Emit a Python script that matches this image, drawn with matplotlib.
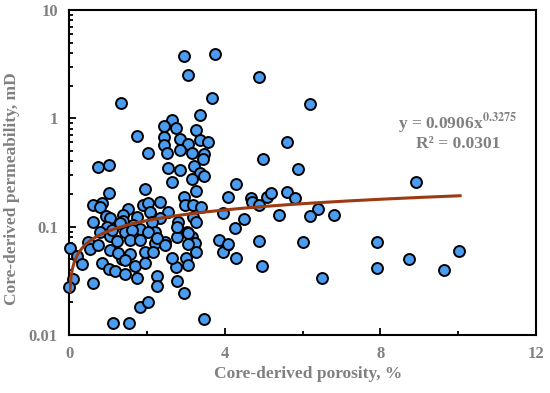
import matplotlib
matplotlib.use("Agg")
import matplotlib.pyplot as plt
import numpy as np
from matplotlib.ticker import LogLocator, NullFormatter, FixedLocator

# core porosity (%) and permeability (mD)
porosity = [
    2.96, 3.75, 3.06, 4.88, 3.68, 1.34, 6.20, 3.37, 2.65, 2.44, 2.75, 3.26, 1.75, 2.44,
    2.85, 3.37, 3.57, 5.60, 3.06, 2.44, 2.03, 2.52, 2.85, 3.16, 3.47, 3.44, 4.99, 0.75,
    1.03, 5.89, 8.92,
    2.54, 2.85, 3.21, 3.37, 3.47, 2.65, 3.16, 4.29, 1.03, 1.95, 2.96, 3.26, 4.09, 4.68,
    4.70, 4.88, 5.09, 5.19, 5.60, 5.81, 6.40, 6.20, 6.81, 5.40, 4.50, 3.96,
    0.62, 0.85, 0.80, 0.95, 0.62, 1.05, 1.52, 1.39, 1.39, 1.75, 1.90, 2.03, 2.08, 2.34,
    2.54, 2.98, 3.19, 3.39, 2.34, 2.13, 3.19, 3.26, 2.80, 4.27, 3.03, 3.16, 3.24, 2.78,
    2.47, 2.21, 4.06, 2.21,
    0.98, 0.80, 0.49, 1.05, 1.23, 1.44, 1.65, 1.83, 2.03, 1.95, 2.26, 2.47, 2.78, 3.06,
    3.06, 3.26, 3.86, 3.96, 4.09, 4.29, 4.88, 4.96, 6.02, 0.03, 0.21, 0.33, 0.10, 0.00,
    0.62, 0.54, 0.75, 0.85, 1.03, 1.18, 1.44, 1.75, 1.36, 1.57, 1.70, 1.95, 2.26, 2.26,
    2.78, 2.75, 2.65, 3.01, 3.06, 2.96, 1.83, 2.03, 1.13, 1.54, 3.47, 1.05, 1.26, 1.44,
    2.16, 1.11, 1.31, 1.62, 1.57, 1.83,
    7.92, 7.92, 8.74, 9.64, 10.03, 6.50,
]
permeability = [
    3.77, 3.93, 2.52, 2.41, 1.54, 1.39, 1.36, 1.07, 0.967, 0.851, 0.815, 0.78, 0.688, 0.673,
    0.645, 0.63, 0.605, 0.605, 0.58, 0.568, 0.479, 0.479, 0.51, 0.479, 0.469, 0.422, 0.422, 0.356,
    0.371, 0.341, 0.259,
    0.348, 0.334, 0.36, 0.313, 0.294, 0.259, 0.275, 0.247, 0.205, 0.223, 0.188, 0.214, 0.188, 0.184,
    0.169, 0.158, 0.188, 0.205, 0.209, 0.184, 0.146, 0.126, 0.128, 0.128, 0.118, 0.134,
    0.158, 0.166, 0.152, 0.126, 0.11, 0.12, 0.146, 0.128, 0.113, 0.123, 0.158, 0.166, 0.137, 0.169,
    0.137, 0.158, 0.158, 0.152, 0.12, 0.11, 0.123, 0.11, 0.11, 0.0973, 0.0893, 0.0803, 0.0707, 0.0803,
    0.0722, 0.0707, 0.0678, 0.0893,
    0.0993, 0.0893, 0.0722, 0.082, 0.0738, 0.0893, 0.104, 0.0953, 0.0893, 0.0584, 0.0787, 0.0678, 0.0993, 0.0875,
    0.0692, 0.0584, 0.0754, 0.0584, 0.0692, 0.0514, 0.0738, 0.0434, 0.0722, 0.0636, 0.0536, 0.0453, 0.0329, 0.0277,
    0.0302, 0.0622, 0.0678, 0.0462, 0.0407, 0.039, 0.0366, 0.0336, 0.0503, 0.056, 0.0434, 0.0462, 0.0351, 0.0283,
    0.0315, 0.0425, 0.0514, 0.0514, 0.0443, 0.0244, 0.0181, 0.0202, 0.0129, 0.0129, 0.0141, 0.061, 0.0572, 0.0493,
    0.0584, 0.0933, 0.108, 0.0933, 0.0754, 0.0754,
    0.0722, 0.0416, 0.0503, 0.0398, 0.0597, 0.0336,
]

# power-law trend shown on the chart
fit_a = 0.0906
fit_b = 0.3275
fit_xmin, fit_xmax = 0.02, 10.05

grey = '#808080'
plt.rcParams['font.family'] = ['Liberation Serif', 'DejaVu Serif']
plt.rcParams['font.weight'] = 'bold'
plt.rcParams['mathtext.fontset'] = 'stix'

fig = plt.figure(figsize=(5.5, 3.93), dpi=100)
ax = fig.add_axes([0.1255, 0.1476, 0.849, 0.827])

ax.scatter(porosity, permeability, s=62, facecolor='#4a9cf0', edgecolor='black',
           linewidth=1.4, zorder=3, clip_on=False)

xf = np.linspace(fit_xmin, fit_xmax, 300)
ax.plot(xf, fit_a * xf ** fit_b, color='#9c3a12', lw=2.2, zorder=4)

ax.set_yscale('log')
ax.set_xlim(0, 12)
ax.set_ylim(0.01, 10)
ax.set_xticks([0, 4, 8, 12])
ax.xaxis.set_minor_locator(FixedLocator([2, 6, 10]))
ax.yaxis.set_major_locator(LogLocator(base=10))
ax.yaxis.set_minor_locator(LogLocator(base=10, subs=np.arange(2, 10)))
ax.yaxis.set_minor_formatter(NullFormatter())
ax.set_yticks([0.01, 0.1, 1, 10])
ax.set_yticklabels(['0.01', '0.1', '1', '10'])

ax.tick_params(which='both', direction='in', colors='black', labelcolor=grey,
               labelsize=12, width=1.3)
ax.tick_params(which='major', length=5, pad=8)
ax.tick_params(which='minor', length=3)
for s in ax.spines.values():
    s.set_linewidth(1.5)

ax.set_xlabel('Core-derived porosity, %', fontsize=12.5, color=grey, fontweight='bold')
ax.set_ylabel('Core-derived permeability, mD', fontsize=12.5, color=grey, fontweight='bold')
ax.xaxis.set_label_coords(0.513, -0.095)
ax.yaxis.set_label_coords(-0.105, 0.45)

ax.text(9.99, 0.90, r'y = 0.0906x$^{\mathbf{0.3275}}$', ha='center', va='center',
        fontsize=12.5, color=grey, fontweight='bold')
ax.text(9.99, 0.575, 'R² = 0.0301', ha='center', va='center',
        fontsize=12.5, color=grey, fontweight='bold')

fig.savefig('out.png', dpi=100)
